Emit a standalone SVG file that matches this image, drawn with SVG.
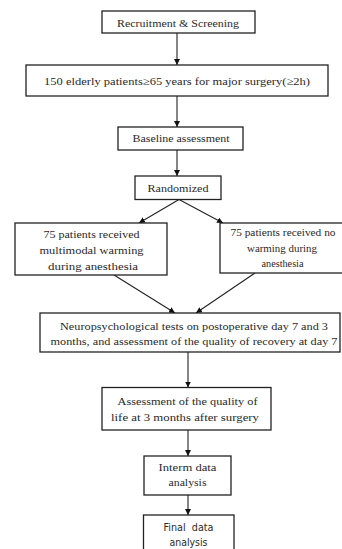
<svg xmlns="http://www.w3.org/2000/svg" width="342" height="549" viewBox="0 0 342 549">
<defs>
<style>
.box{fill:#fff;stroke:#222;stroke-width:1.3}
.t{font-family:"Liberation Serif","Times New Roman",serif;font-size:11px;fill:#2a2a2a;text-anchor:middle}
.s{font-family:"DejaVu Sans","Liberation Sans",sans-serif;font-size:10px;fill:#2a2a2a;text-anchor:middle}
.c{stroke:#222;stroke-width:1.1;fill:none;marker-end:url(#ah)}
</style>
<marker id="ah" markerUnits="userSpaceOnUse" markerWidth="7" markerHeight="6" refX="6" refY="3" orient="auto">
<path d="M0,0 L6,3 L0,6 z" fill="#111"/>
</marker>
</defs>
<rect width="342" height="549" fill="#fff"/>
<g id="connectors">
<line class="c" x1="177" y1="33" x2="177" y2="65"/>
<line class="c" x1="177" y1="96" x2="177" y2="127"/>
<line class="c" x1="177" y1="150" x2="177" y2="176"/>
<line class="c" x1="179" y1="199.5" x2="139" y2="223"/>
<line class="c" x1="179" y1="199.5" x2="223" y2="223"/>
<line class="c" x1="114" y1="275" x2="175" y2="313"/>
<line class="c" x1="255" y1="273" x2="196" y2="313"/>
<line class="c" x1="188" y1="352" x2="188" y2="387.5"/>
<line class="c" x1="188" y1="430" x2="188" y2="456"/>
<line class="c" x1="188" y1="495" x2="188" y2="515"/>
</g>
<g id="n1">
<rect class="box" x="102" y="11" width="153" height="22"/>
<text class="t" x="178" y="27" textLength="122" lengthAdjust="spacingAndGlyphs">Recruitment &amp; Screening</text>
</g>
<g id="n2">
<rect class="box" x="26" y="65" width="302" height="31"/>
<text class="t" x="177" y="85" textLength="266" lengthAdjust="spacingAndGlyphs">150 elderly patients≥65 years for major surgery(≥2h)</text>
</g>
<g id="n3">
<rect class="box" x="118" y="127" width="125" height="23"/>
<text class="t" x="181" y="142" textLength="97" lengthAdjust="spacingAndGlyphs">Baseline assessment</text>
</g>
<g id="n4">
<rect class="box" x="135" y="176" width="86" height="23.5"/>
<text class="t" x="178" y="191.5" textLength="61" lengthAdjust="spacingAndGlyphs">Randomized</text>
</g>
<g id="n5">
<rect class="box" x="15" y="223" width="152" height="52"/>
<text class="t" x="91.5" y="238" textLength="96" lengthAdjust="spacingAndGlyphs">75 patients received</text>
<text class="t" x="91.5" y="253.5" textLength="104" lengthAdjust="spacingAndGlyphs">multimodal warming</text>
<text class="t" x="93" y="269.5" textLength="90" lengthAdjust="spacingAndGlyphs">during anesthesia</text>
</g>
<g id="n6">
<rect class="box" x="220" y="223" width="126" height="50"/>
<text class="t" x="283" y="236" textLength="105" lengthAdjust="spacingAndGlyphs">75 patients received no</text>
<text class="t" x="282" y="251.5" textLength="70" lengthAdjust="spacingAndGlyphs">warming during</text>
<text class="t" x="282.5" y="267" textLength="42" lengthAdjust="spacingAndGlyphs">anesthesia</text>
</g>
<g id="n7">
<rect class="box" x="40" y="313" width="300" height="39"/>
<text class="t" x="194" y="330" textLength="268" lengthAdjust="spacingAndGlyphs">Neuropsychological tests on postoperative day 7 and 3</text>
<text class="t" x="194" y="345" textLength="287" lengthAdjust="spacingAndGlyphs">months, and assessment of the quality of recovery at day 7</text>
</g>
<g id="n8">
<rect class="box" x="102" y="387.5" width="169" height="42.5"/>
<text class="t" x="187.5" y="405" textLength="140" lengthAdjust="spacingAndGlyphs">Assessment of the quality of</text>
<text class="t" x="185" y="420.5" textLength="148" lengthAdjust="spacingAndGlyphs">life at 3 months after surgery</text>
</g>
<g id="n9">
<rect class="box" x="144" y="456" width="87" height="39"/>
<text class="t" x="187.5" y="471" textLength="58" lengthAdjust="spacingAndGlyphs">Interm data</text>
<text class="t" x="187.5" y="486" textLength="38" lengthAdjust="spacingAndGlyphs">analysis</text>
</g>
<g id="n10">
<rect class="box" x="143.5" y="515" width="90.5" height="40"/>
<text class="s" x="188.5" y="531" textLength="50" lengthAdjust="spacingAndGlyphs" xml:space="preserve">Final  data</text>
<text class="s" x="188.5" y="546" textLength="38" lengthAdjust="spacingAndGlyphs">analysis</text>
</g>
</svg>
